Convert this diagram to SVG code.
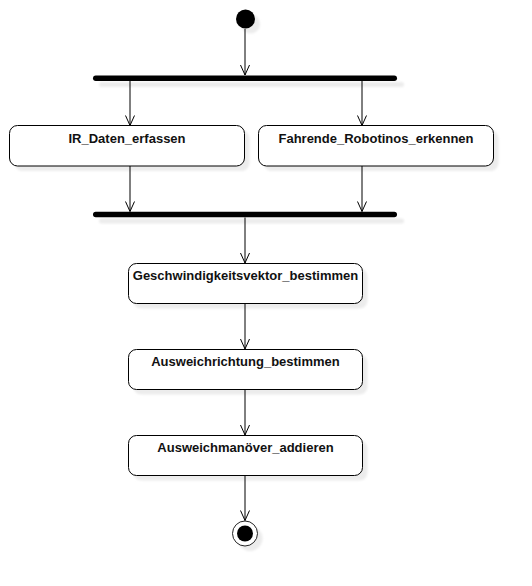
<svg xmlns="http://www.w3.org/2000/svg" width="532" height="586" viewBox="0 0 532 586">
  <defs>
    <marker id="arrow" markerUnits="userSpaceOnUse" markerWidth="12" markerHeight="10" refX="11" refY="5" orient="auto" overflow="visible">
      <path d="M1,0.5 L11,5 L1,9.5" fill="none" stroke="#000" stroke-width="1"/>
    </marker>
    <filter id="soft" x="-10%" y="-30%" width="120%" height="160%">
      <feGaussianBlur stdDeviation="0.8"/>
    </filter>
  </defs>
  <style>
    .shadow { fill: #ececec; filter: url(#soft); }
    .action { fill: #ffffff; stroke: #000; stroke-width: 1; }
    .bar { fill: #000; }
    .label { font-family: "Liberation Sans", Arial, sans-serif; font-size: 13px; font-weight: bold; fill: #111; text-anchor: middle; }
    .flow { fill: none; stroke: #000; stroke-width: 1; marker-end: url(#arrow); }
  </style>
  <rect width="532" height="586" fill="#ffffff"/>

  <g id="start">
    <circle class="shadow" cx="250.5" cy="24" r="9.5"/>
    <circle cx="245.5" cy="19" r="9.5" fill="#000"/>
  </g>

  <g id="fork1">
    <rect class="shadow" x="99" y="82" width="305" height="5" rx="2.5"/>
    <rect class="bar" x="93" y="75.5" width="304" height="5.5" rx="2.75"/>
  </g>

  <g id="ir-daten">
    <rect class="shadow" x="14.5" y="130.5" width="235" height="40.5" rx="8"/>
    <rect class="action" x="9.5" y="125.5" width="235" height="40.5" rx="8"/>
    <text class="label" x="127" y="143">IR_Daten_erfassen</text>
  </g>

  <g id="fahrende">
    <rect class="shadow" x="263.5" y="130.5" width="235" height="40.5" rx="8"/>
    <rect class="action" x="258.5" y="125.5" width="235" height="40.5" rx="8"/>
    <text class="label" x="376" y="143">Fahrende_Robotinos_erkennen</text>
  </g>

  <g id="join">
    <rect class="shadow" x="99" y="218.5" width="305" height="5" rx="2.5"/>
    <rect class="bar" x="93" y="211.75" width="304" height="5.5" rx="2.75"/>
  </g>

  <g id="geschwindigkeit">
    <rect class="shadow" x="133.5" y="268.5" width="234" height="40" rx="8"/>
    <rect class="action" x="128.5" y="263.5" width="234" height="40" rx="8"/>
    <text class="label" x="245.5" y="280">Geschwindigkeitsvektor_bestimmen</text>
  </g>

  <g id="ausweichrichtung">
    <rect class="shadow" x="133.5" y="354.5" width="234" height="40" rx="8"/>
    <rect class="action" x="128.5" y="349.5" width="234" height="40" rx="8"/>
    <text class="label" x="245.5" y="365.5">Ausweichrichtung_bestimmen</text>
  </g>

  <g id="ausweichmanoever">
    <rect class="shadow" x="133.5" y="440.5" width="234" height="40" rx="8"/>
    <rect class="action" x="128.5" y="435.5" width="234" height="40" rx="8"/>
    <text class="label" x="245.5" y="452">Ausweichmanöver_addieren</text>
  </g>

  <g id="end">
    <circle class="shadow" cx="250" cy="538.5" r="12.5"/>
    <circle cx="245" cy="533.5" r="12.5" fill="#fff" stroke="#222" stroke-width="1"/>
    <circle cx="245" cy="533.5" r="8" fill="#000"/>
  </g>

  <g id="connectors">
    <path class="flow" d="M245,29 L245,75"/>
    <path class="flow" d="M130,81 L130,125.5"/>
    <path class="flow" d="M362,81 L362,125.5"/>
    <path class="flow" d="M130,166 L130,211.5"/>
    <path class="flow" d="M362,166 L362,211.5"/>
    <path class="flow" d="M245,217.5 L245,263"/>
    <path class="flow" d="M245,304 L245,349"/>
    <path class="flow" d="M245,390 L245,435"/>
    <path class="flow" d="M245,476 L245,520.5"/>
  </g>
</svg>
